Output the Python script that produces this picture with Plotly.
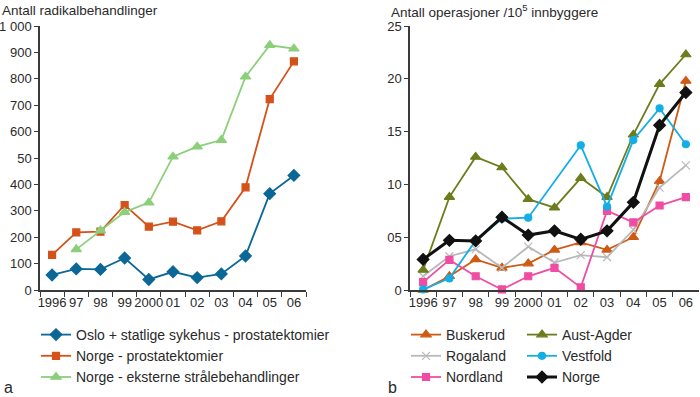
import plotly.graph_objects as go

W, H = 700, 397

years = ["1996", "97", "98", "99", "2000", "01", "02", "03", "04", "05", "06"]

# Panel a
oslo_prost = [57, 80, 78, 121, 40, 69, 47, 61, 129, 365, 434]
norge_prost = [133, 218, 221, 322, 240, 259, 226, 260, 389, 723, 866]
norge_straale = [None, 154, 225, 295, 331, 505, 543, 568, 808, 927, 914]
a_ticks = [0, 100, 200, 300, 400, 500, 600, 700, 800, 900, 1000]
a_ticktext = ["0", "100", "200", "300", "400", "50", "600", "700", "800", "900", "1 000"]

# Panel b
buskerud = [0.0, 1.3, 2.9, 2.1, 2.5, 3.8, 4.5, 3.8, 5.0, 10.3, 19.8]
aust_agder = [1.9, 8.8, 12.6, 11.6, 8.6, 7.8, 10.6, 8.8, 14.7, 19.5, 22.3]
rogaland = [1.3, 3.2, 3.85, 2.1, 4.1, 2.6, 3.3, 3.1, 5.7, 9.7, 11.8]
vestfold = [0.05, 1.1, 4.7, 6.75, 6.85, None, 13.7, 7.9, 14.2, 17.2, 13.8]
nordland = [0.75, 2.85, 1.3, 0.05, 1.3, 2.1, 0.25, 7.5, 6.4, 8.0, 8.8]
norge = [2.9, 4.7, 4.65, 6.9, 5.2, 5.6, 4.8, 5.6, 8.3, 15.6, 18.7]
b_ticks = [0, 5, 10, 15, 20, 25]
b_ticktext = ["0", "05", "10", "15", "20", "25"]

FONT = "Liberation Sans, Arial, sans-serif"
TXT = "#2a2a2a"
AX = "#3a3a3a"

fig = go.Figure()

def add(name, y, color, symbol, xa, ya, legend, size=8, width=1.8):
    fig.add_trace(go.Scatter(
        x=years, y=y, name=name, mode="lines+markers",
        line=dict(color=color, width=width),
        marker=dict(symbol=symbol, size=size, color=color, line=dict(color=color, width=1.2)),
        xaxis=xa, yaxis=ya, legend=legend, connectgaps=True,
        cliponaxis=False,
    ))

add("Oslo + statlige sykehus - prostatektomier", oslo_prost, "#0b6796", "diamond", "x", "y", "legend", size=9)
add("Norge - prostatektomier", norge_prost, "#d4521a", "square", "x", "y", "legend", size=7)
add("Norge - eksterne strålebehandlinger", norge_straale, "#8ccf7a", "triangle-up", "x", "y", "legend", size=9)

add("Buskerud", buskerud, "#cf5a14", "triangle-up", "x2", "y2", "legend2", size=9)
add("Rogaland", rogaland, "#b9b9b9", "x-thin", "x2", "y2", "legend2", size=8)
add("Nordland", nordland, "#ef4da3", "square", "x2", "y2", "legend2", size=7)
add("Aust-Agder", aust_agder, "#6b7d1c", "triangle-up", "x2", "y2", "legend3", size=9)
add("Vestfold", vestfold, "#14aee6", "circle", "x2", "y2", "legend3", size=7)
add("Norge", norge, "#111111", "diamond", "x2", "y2", "legend3", size=9, width=3)

ydom = [1 - 290 / H, 1 - 26 / H]
xcommon = dict(type="category", tickson="boundaries", ticks="outside", ticklen=5,
               tickcolor=AX, tickwidth=1.3, showline=True, linecolor=AX, linewidth=1.5,
               showgrid=False, zeroline=False, tickangle=0,
               tickfont=dict(size=13, color=TXT, family=FONT),
               range=[-0.5, 10.5], fixedrange=True, automargin=False)
ycommon = dict(ticks="outside", ticklen=4, tickcolor=AX, tickwidth=1.3, showline=True,
               linecolor=AX, linewidth=1.5, showgrid=False, zeroline=False,
               tickfont=dict(size=13, color=TXT, family=FONT), domain=ydom, automargin=False)

legfont = dict(size=14, color=TXT, family=FONT)
legy = 1 - 356 / H

fig.update_layout(
    width=W, height=H, margin=dict(l=0, r=0, t=0, b=0, autoexpand=False),
    paper_bgcolor="white", plot_bgcolor="white",
    font=dict(family=FONT, color=TXT, size=14),
    xaxis=dict(domain=[40 / W, 306 / W], anchor="y", **xcommon),
    yaxis=dict(anchor="x", range=[0, 1000], tickvals=a_ticks, ticktext=a_ticktext, **ycommon),
    xaxis2=dict(domain=[410 / W, 699 / W], anchor="y2", **xcommon),
    yaxis2=dict(anchor="x2", range=[0, 25], tickvals=b_ticks, ticktext=b_ticktext, **ycommon),
    legend=dict(x=36 / W, y=legy, xanchor="left", yanchor="middle", font=legfont,
                itemwidth=30, bgcolor="rgba(0,0,0,0)"),
    legend2=dict(x=406 / W, y=legy, xanchor="left", yanchor="middle", font=legfont,
                 itemwidth=30, bgcolor="rgba(0,0,0,0)"),
    legend3=dict(x=522 / W, y=legy, xanchor="left", yanchor="middle", font=legfont,
                 itemwidth=30, bgcolor="rgba(0,0,0,0)"),
    showlegend=True,
)

ann = [
    dict(text="Antall radikalbehandlinger", x=0, y=1 - 1 / H, xanchor="left", yanchor="top", font=dict(size=13.5)),
    dict(text="Antall operasjoner /10<sup>5</sup> innbyggere", x=389 / W, y=1, xanchor="left", yanchor="top", font=dict(size=13.5)),
    dict(text="a", x=2 / W, y=1 - 387 / H, xanchor="left", yanchor="middle", font=dict(size=16)),
    dict(text="b", x=386 / W, y=1 - 387 / H, xanchor="left", yanchor="middle", font=dict(size=16)),
]
for a in ann:
    fig.add_annotation(xref="paper", yref="paper", showarrow=False, **a)

fig.write_html("out.html", config={"displayModeBar": False},
               post_script="document.body.style.margin='0';document.body.style.overflow='hidden';")
